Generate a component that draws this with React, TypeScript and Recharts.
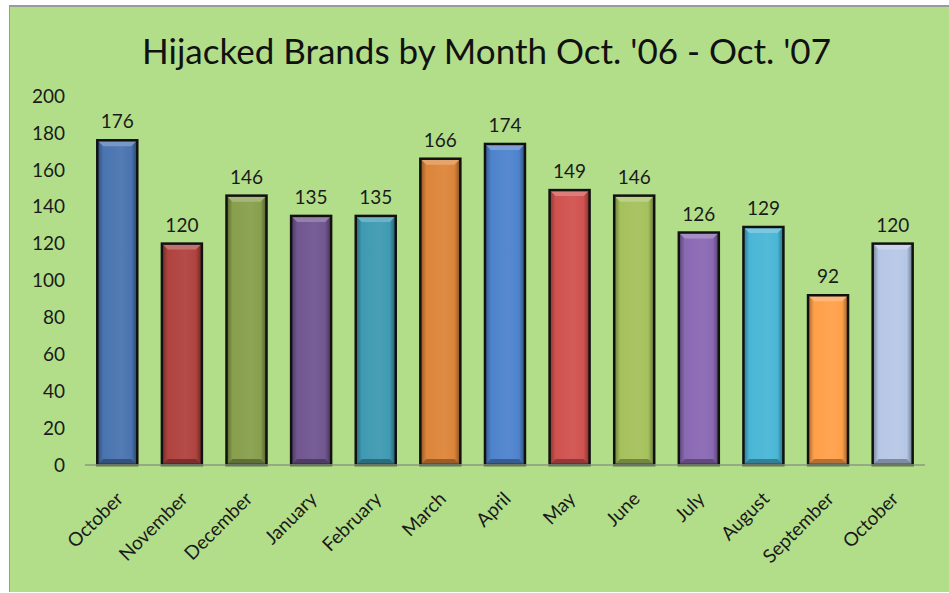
import React from 'react';
import { BarChart, Bar, XAxis, YAxis, Cell, LabelList } from 'recharts';

const months = ['October', 'November', 'December', 'January', 'February', 'March', 'April', 'May', 'June', 'July', 'August', 'September', 'October'];
const counts = [176, 120, 146, 135, 135, 166, 174, 149, 146, 126, 129, 92, 120];
const barColors = ['#4a74b0', '#b0433f', '#889f4d', '#715690', '#3e9ab2', '#dc853a', '#4e83cc', '#d0524f', '#a5c15c', '#8a69b3', '#4ab6d6', '#ffa04a', '#b6c7e6'];
const yTicks = [0, 20, 40, 60, 80, 100, 120, 140, 160, 180, 200];
const title = "Hijacked Brands by Month Oct. '06 - Oct. '07";

const data = months.map((m, i) => ({ key: i, month: m, count: counts[i] }));

const FONT = 'Lato, "Open Sans", sans-serif';

function shade(hex: string, amt: number): string {
  const n = parseInt(hex.slice(1), 16);
  let r = (n >> 16) & 255, g = (n >> 8) & 255, b = n & 255;
  const f = (c: number) => {
    const v = amt >= 0 ? c + (255 - c) * amt : c * (1 + amt);
    return Math.max(0, Math.min(255, Math.round(v)));
  };
  r = f(r); g = f(g); b = f(b);
  return '#' + ((1 << 24) | (r << 16) | (g << 8) | b).toString(16).slice(1);
}

const BevelBar = (props: any) => {
  const { x, y, width, height, fill, index } = props;
  if (!height || height <= 0) return null;
  const id = `grad${index}`;
  const b = 6;
  return (
    <g>
      <defs>
        <linearGradient id={id} x1="0" y1="0" x2="1" y2="0">
          <stop offset="0%" stopColor={shade(fill, -0.35)} />
          <stop offset="15%" stopColor={fill} />
          <stop offset="60%" stopColor={shade(fill, 0.05)} />
          <stop offset="85%" stopColor={fill} />
          <stop offset="100%" stopColor={shade(fill, -0.4)} />
        </linearGradient>
      </defs>
      <rect x={x} y={y} width={width} height={height} fill={`url(#${id})`} />
      <polygon
        points={`${x},${y} ${x + width},${y} ${x + width - b},${y + b} ${x + b},${y + b}`}
        fill={shade(fill, 0.25)}
      />
      <polygon
        points={`${x},${y + height} ${x + width},${y + height} ${x + width - b},${y + height - b} ${x + b},${y + height - b}`}
        fill={shade(fill, -0.3)}
      />
      <rect x={x} y={y} width={width} height={height} fill="none" stroke="#111" strokeWidth={2.5} />
    </g>
  );
};

const XTick = (props: any) => {
  const { x, y, payload } = props;
  const ax = x + 7;
  const ay = y + 27;
  return (
    <text
      x={ax}
      y={ay}
      textAnchor="end"
      transform={`rotate(-45, ${ax}, ${ay})`}
      fontSize={19}
      fontFamily={FONT}
      fill="#1a1a1a"
    >
      {months[payload.value]}
    </text>
  );
};

export default function App() {
  return (
    <div style={{ position: 'absolute', left: 0, top: 0, width: 949, height: 593, background: '#ffffff', overflow: 'hidden' }}>
      <div
        style={{
          position: 'absolute',
          left: 9,
          top: 5,
          width: 940,
          height: 585,
          background: '#b3de89',
          borderLeft: '1px solid #9a9a9a',
          borderTop: '2px solid #9a9a9a',
        }}
      />
      <div
        style={{
          position: 'absolute',
          left: 0,
          top: 27,
          width: 973,
          textAlign: 'center',
          fontFamily: FONT,
          fontSize: 35,
          color: '#111',
          lineHeight: '46px',
        }}
      >
        {title}
      </div>
      <div style={{ position: 'absolute', left: 0, top: 0 }}>
        <BarChart
          width={949}
          height={593}
          data={data}
          margin={{ top: 96, right: 24, left: 25, bottom: 118 }}
          barCategoryGap="19%"
        >
          <XAxis
            dataKey="key"
            tick={<XTick />}
            interval={0}
            tickLine={false}
            axisLine={{ stroke: '#8a9a80', strokeWidth: 1.5 }}
            height={10}
          />
          <YAxis
            domain={[0, 200]}
            ticks={yTicks}
            width={60}
            axisLine={false}
            tickLine={false}
            tickSize={0}
            tickMargin={20}
            tick={{ fontSize: 19, fontFamily: FONT, fill: '#1a1a1a' }}
            interval={0}
          />
          <Bar dataKey="count" isAnimationActive={false} shape={<BevelBar />}>
            {data.map((d, i) => (
              <Cell key={i} fill={barColors[i]} />
            ))}
            <LabelList
              dataKey="count"
              position="top"
              offset={12}
              fontSize={19}
              fontFamily={FONT}
              fill="#1a1a1a"
            />
          </Bar>
        </BarChart>
      </div>
    </div>
  );
}
